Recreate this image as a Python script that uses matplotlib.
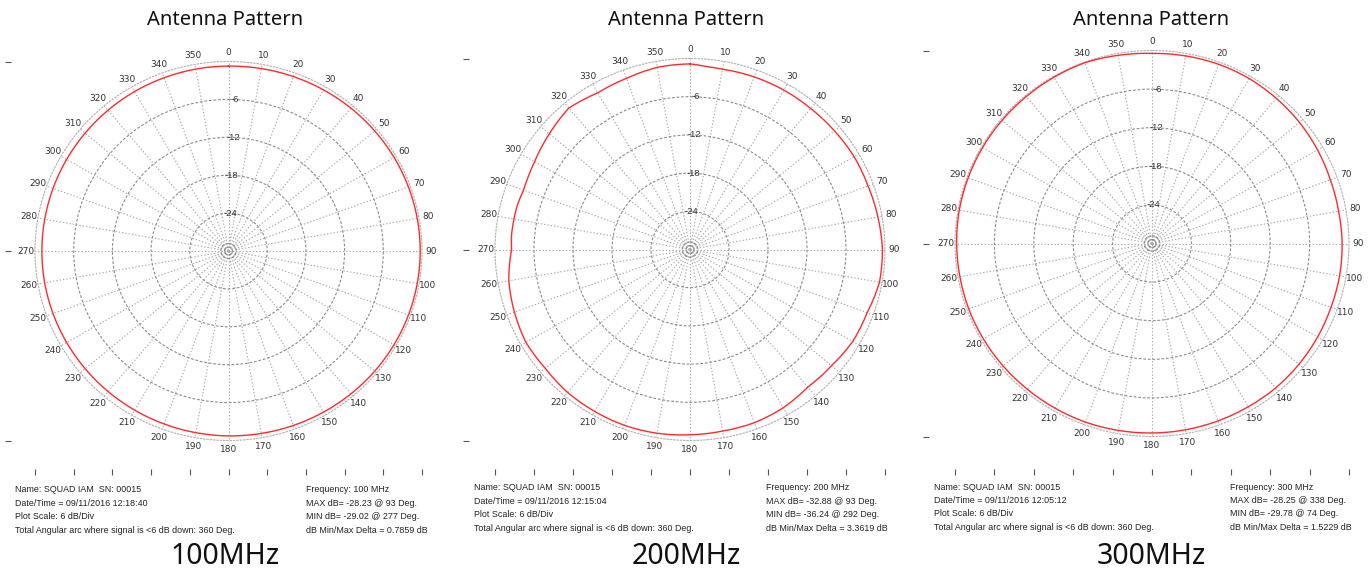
import numpy as np
import matplotlib.pyplot as plt

W, H = 1371, 573

# pattern readings in dB relative to the outer ring (0 = ring, -30 = centre)
angles = [0, 10, 20, 30, 40, 50, 60, 70, 80, 90, 100, 110, 120, 130, 140, 150, 160, 170,
          180, 190, 200, 210, 220, 230, 240, 250, 260, 270, 280, 290, 300, 310, 320, 330, 340, 350]

db_100 = [-0.73, -0.68, -0.61, -0.55, -0.48, -0.42, -0.36, -0.32, -0.29, -0.28, -0.29, -0.32,
          -0.36, -0.41, -0.48, -0.55, -0.61, -0.68, -0.73, -0.80, -0.86, -0.91, -0.96, -1.00,
          -1.03, -1.05, -1.06, -1.07, -1.07, -1.05, -1.02, -0.98, -0.92, -0.86, -0.81, -0.76]

ang_200 = [0, 5, 10, 20, 30, 40, 50, 60, 70, 80, 90, 100, 110, 120, 130, 140, 150, 160, 170,
           180, 190, 200, 210, 220, 230, 240, 250, 260, 270, 275, 280, 285, 290, 295, 300,
           310, 320, 330, 340, 350]
db_200 = [-0.85, -1.15, -1.25, -1.15, -1.10, -1.10, -1.00, -0.85, -0.85, -0.65, -0.40, -0.40,
          -1.00, -1.10, -1.60, -1.80, -1.30, -1.05, -1.05, -0.90, -0.70, -0.60, -0.65, -0.70,
          -0.95, -0.85, -1.25, -1.70, -2.55, -2.45, -2.50, -2.55, -2.75, -2.60, -2.40,
          -1.75, -1.00, -1.60, -1.40, -0.95]

db_300 = [-0.45, -0.40, -0.35, -0.40, -0.55, -0.70, -0.90, -1.10, -1.15, -1.05, -1.00, -1.00,
          -0.90, -0.80, -0.70, -0.70, -0.65, -0.60, -0.55, -0.50, -0.45, -0.45, -0.45, -0.40,
          -0.35, -0.30, -0.30, -0.25, -0.20, -0.20, -0.20, -0.20, -0.20, -0.15, -0.10, -0.30]

ring_values = [-24, -18, -12, -6]
ring_labels = ['-24', '-18', '-12', '-6']
theta_ticks = list(range(0, 360, 10))

freq_labels = ['100MHz', '200MHz', '300MHz']
info_left = [
    ['Name: SQUAD IAM  SN: 00015', 'Date/Time = 09/11/2016 12:18:40', 'Plot Scale: 6 dB/Div',
     'Total Angular arc where signal is <6 dB down: 360 Deg.'],
    ['Name: SQUAD IAM  SN: 00015', 'Date/Time = 09/11/2016 12:15:04', 'Plot Scale: 6 dB/Div',
     'Total Angular arc where signal is <6 dB down: 360 Deg.'],
    ['Name: SQUAD IAM  SN: 00015', 'Date/Time = 09/11/2016 12:05:12', 'Plot Scale: 6 dB/Div',
     'Total Angular arc where signal is <6 dB down: 360 Deg.'],
]
info_right = [
    ['Frequency: 100 MHz', 'MAX dB= -28.23 @ 93 Deg.', 'MIN dB= -29.02 @ 277 Deg.',
     'dB Min/Max Delta = 0.7859 dB'],
    ['Frequency: 200 MHz', 'MAX dB= -32.88 @ 93 Deg.', 'MIN dB= -36.24 @ 292 Deg.',
     'dB Min/Max Delta = 3.3619 dB'],
    ['Frequency: 300 MHz', 'MAX dB= -28.25 @ 338 Deg.', 'MIN dB= -29.78 @ 74 Deg.',
     'dB Min/Max Delta = 1.5229 dB'],
]

# panel geometry in pixels: plot centre/radii, frame tick x, title x, text columns and first text row
panels = [
    dict(cx=228.5, cy=251.0, rx=193.5, ry=189.5, tx=8, hx=225, xl=15, xr=306, ty=490),
    dict(cx=690.0, cy=249.5, rx=195.0, ry=191.0, tx=466, hx=686, xl=474, xr=766, ty=488),
    dict(cx=1152.0, cy=243.5, rx=197.0, ry=193.0, tx=926, hx=1151, xl=934, xr=1230, ty=487),
]
data = [(angles, db_100), (ang_200, db_200), (angles, db_300)]

fig = plt.figure(figsize=(W / 100, H / 100), dpi=100)

for i, p in enumerate(panels):
    cx, cy, rx, ry = p['cx'], p['cy'], p['rx'], p['ry']

    # faint frame ticks left over from the export
    fr = fig.add_axes([p['tx'] / W, 1 - 472 / H, (cx + rx + 10 - p['tx']) / W, (472 - (cy - ry)) / H])
    fr.set_facecolor('none')
    fr.set_xlim(p['tx'], cx + rx + 10)
    fr.set_ylim(472, cy - ry)
    fr.set_xticks(np.linspace(cx - rx, cx + rx, 11))
    fr.set_yticks([cy - ry, cy, cy + ry])
    fr.tick_params(direction='inout', length=4, width=0.8, color='#555555',
                   labelbottom=False, labelleft=False)
    for s in fr.spines.values():
        s.set_visible(False)

    ax = fig.add_axes([(cx - rx) / W, 1 - (cy + ry) / H, 2 * rx / W, 2 * ry / H], projection='polar')
    ax.set_aspect('auto')
    ax.set_theta_zero_location('N')
    ax.set_theta_direction(-1)
    ax.set_ylim(-30, 0)
    ax.set_rgrids([-29.4, -28.8] + ring_values, labels=[''] * 6)
    ax.set_thetagrids(theta_ticks, labels=[str(t) for t in theta_ticks])
    ax.tick_params(axis='x', pad=-4, labelsize=6.5, labelcolor='#333333')
    ax.xaxis.grid(True, color='#a8a8a8', linestyle=(0, (1.2, 1.8)), linewidth=0.8)
    ax.yaxis.grid(True, color='#8c8c8c', linestyle=(0, (2.5, 1.6)), linewidth=0.8)
    ax.spines['polar'].set(color='#b0b0b0', linestyle=(0, (1.2, 1.8)), linewidth=0.8)
    for r, lab in zip(ring_values, ring_labels):
        ax.text(np.deg2rad(2.2), r, lab, ha='center', va='center', fontsize=6.8,
                color='#333333', family='Liberation Sans')

    ang, db = data[i]
    # close the loop at 360 so every segment runs forward round the circle
    th = np.deg2rad(ang + [360])
    line, = ax.plot(th, db + [db[0]], color='#ff2b2b', linewidth=1.0, clip_on=False, zorder=5)
    line.get_path()._interpolation_steps = 24  # follow the polar arc between readings

    fig.text(p['hx'] / W, 1 - 20 / H, 'Antenna Pattern', ha='center', va='center',
             fontsize=14.5, family='Noto Sans', color='#111111')
    fig.text(p['hx'] / W, 1 - 557 / H, freq_labels[i], ha='center', va='center',
             fontsize=20.5, family='Noto Sans', color='#111111')

    for k in range(4):
        y = 1 - (p['ty'] + 13.4 * k) / H
        fig.text(p['xl'] / W, y, info_left[i][k], ha='left', va='center', fontsize=6.4,
                 family='Liberation Sans', color='#222222')
        fig.text(p['xr'] / W, y, info_right[i][k], ha='left', va='center', fontsize=6.4,
                 family='Liberation Sans', color='#222222')

fig.savefig('out.png', dpi=100)
